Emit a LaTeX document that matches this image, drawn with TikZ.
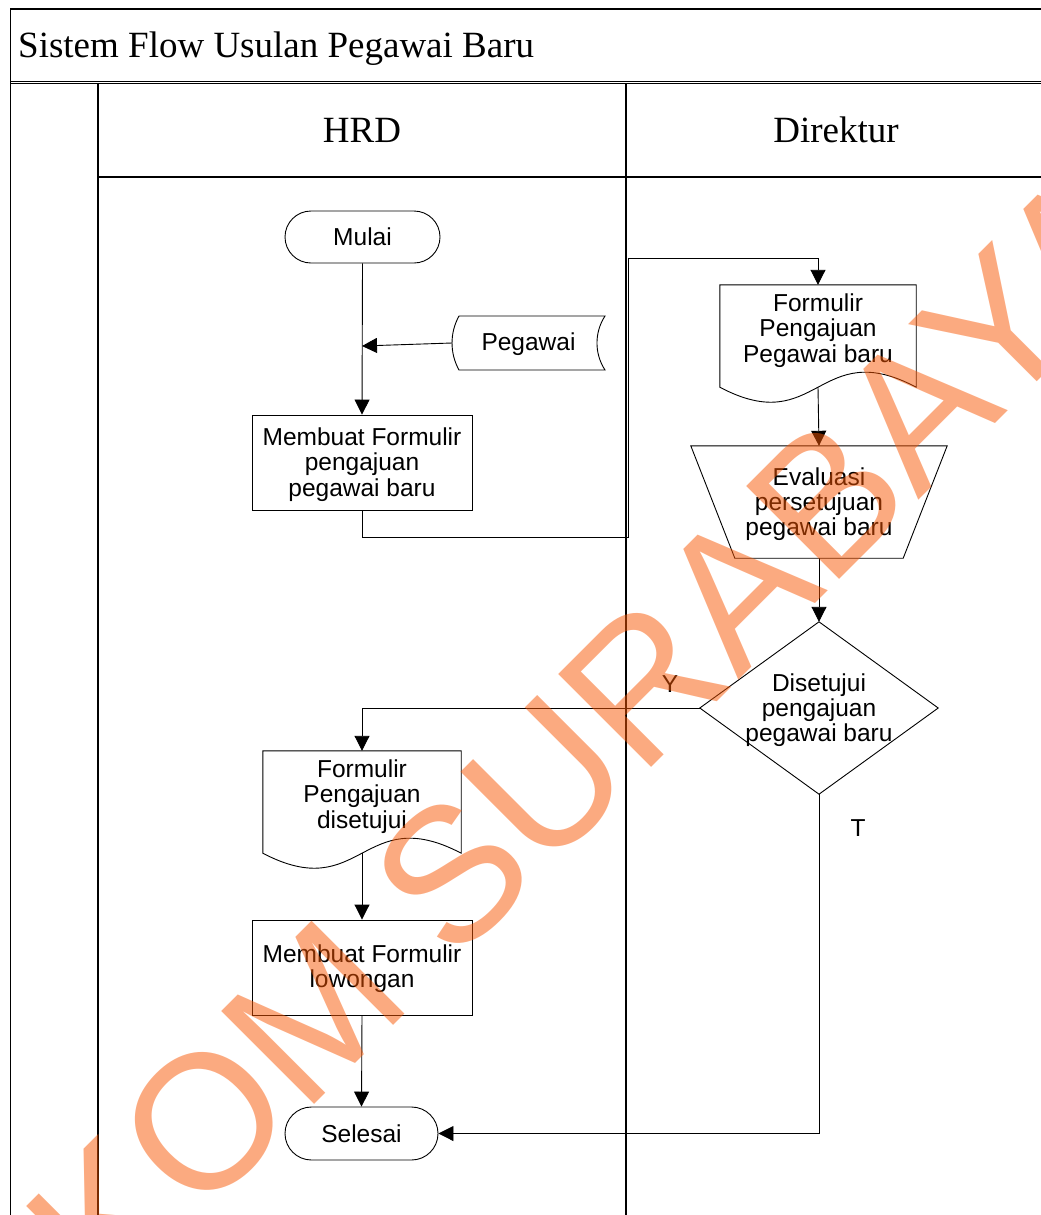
\documentclass[tikz,border=0pt]{standalone}
\usepackage{fontspec}
\setmainfont{Liberation Serif}
\newfontfamily\arialf{Liberation Sans}
\usetikzlibrary{shapes.misc,arrows.meta,calc}
\definecolor{wmcol}{RGB}{248,86,2}
\newcommand\flowfont{\arialf\fontsize{24.5bp}{25.3bp}\selectfont}
\newcommand\headfont{\fontsize{37bp}{40bp}\selectfont}
\begin{document}
\begin{tikzpicture}[x=1bp,y=-1bp,
  ln/.style={line width=0.9bp,draw=black},
  frame/.style={line width=1.2bp,draw=black},
  arr/.style={ln,-{Triangle[length=15bp,width=15bp]}},
  term/.style={rounded rectangle,draw,line width=0.9bp,fill=white,inner sep=0,
    minimum width=155bp,minimum height=52bp,font=\flowfont},
  proc/.style={rectangle,draw,line width=0.9bp,fill=white,inner sep=0,
    minimum width=220bp,minimum height=95bp},
  shapebox/.style={rectangle,draw=none,inner sep=0},
  txt/.style={font=\flowfont,align=center,inner sep=0},
  head/.style={font=\headfont,inner sep=0},
  wm/.style={rotate=45,anchor=base west,inner sep=0,text=wmcol,text opacity=0.5,
    font=\arialf\fontsize{191bp}{191bp}\selectfont}
]
\useasboundingbox (0,0) rectangle (1041,1215);
\clip (0,0) rectangle (1041,1215);

% pool frame
\draw[frame] (1050,9) -- (10.5,9) -- (10.5,1225);
\draw[line width=0.9bp] (10.5,81.5) -- (1050,81.5);
\draw[line width=0.9bp] (10.5,83.8) -- (1050,83.8);
\draw[frame] (98,83.8) -- (98,1225);
\draw[frame] (98,177) -- (1050,177);
\draw[frame] (626,83.8) -- (626,1225);

\node[head,anchor=base west] (title) at (18,57) {Sistem Flow Usulan Pegawai Baru};
\node[head,anchor=base] (hrd) at (362,142) {HRD};
\node[head,anchor=base] (dir) at (836,142) {Direktur};

% nodes
\node[term] (mulai) at (362.5,237) {Mulai};
\node[term,minimum width=153bp,minimum height=53bp] (sel) at (361.5,1133.5) {Selesai};
\node[proc] (p1) at (362,462.5) {};
\node[txt] (p1t) at (362,464.5) {Membuat Formulir\\pengajuan\\pegawai baru};
\node[proc] (p2) at (362,967.5) {};
\node[txt] (p2t) at (362,969) {Membuat Formulir\\lowongan};

% stored data
\node[shapebox,minimum width=153bp,minimum height=54bp] (peg) at (528.5,343) {};
\draw[ln,fill=white] ($(peg)+(-69.5,-27)$) .. controls ($(peg)+(-78.8,-10.2)$) and ($(peg)+(-78.8,10.2)$) .. ($(peg)+(-69.5,27)$)
  -- ($(peg)+(76.5,27)$) .. controls ($(peg)+(65.8,10.6)$) and ($(peg)+(65.8,-10.6)$) .. ($(peg)+(76.5,-27)$) -- cycle;
\node[txt] (pegt) at (528.5,344) {Pegawai};

% documents
\node[shapebox,minimum width=196bp,minimum height=102bp] (d1) at (818,336) {};
\draw[ln,fill=white] (d1.north west) -- (d1.north east) -- (d1.south east)
  .. controls ($(d1.south)+(0,-52)$) and ($(d1.south)+(0,52)$) .. (d1.south west) -- cycle;
\node[txt] (d1t) at (818,330.5) {Formulir\\Pengajuan\\Pegawai baru};

\node[shapebox,minimum width=198bp,minimum height=102bp] (d2) at (362,802) {};
\draw[ln,fill=white] (d2.north west) -- (d2.north east) -- (d2.south east)
  .. controls ($(d2.south)+(0,-52)$) and ($(d2.south)+(0,52)$) .. (d2.south west) -- cycle;
\node[txt] (d2t) at (362,796.5) {Formulir\\Pengajuan\\disetujui};

% manual operation
\node[shapebox,minimum width=256bp,minimum height=112bp] (ev) at (819,502) {};
\draw[ln,fill=white] (ev.north west) -- (ev.north east) -- ($(ev.south east)+(-44,0)$) -- ($(ev.south west)+(44,0)$) -- cycle;
\node[txt] (evt) at (819,504) {Evaluasi\\persetujuan\\pegawai baru};

% decision
\node[shapebox,minimum width=238bp,minimum height=172bp] (dia) at (819,708) {};
\draw[ln,fill=white] (dia.north) -- (dia.east) -- (dia.south) -- (dia.west) -- cycle;
\node[txt] (diat) at (819,710) {Disetujui\\pengajuan\\pegawai baru};

% connectors
\coordinate (join) at (362,346);
\coordinate (c1) at (628,537);
\coordinate (c2) at (628,258);
\draw[arr] (mulai.south) -- (p1.north);
\draw[arr] (peg.west) -- (join);
\draw[arr] (p1.south) |- (c1) -- (c2) -| (d1.north);
\draw[arr] (d1.south) -- (ev.north);
\draw[arr] (ev.south) -- (dia.north);
\draw[arr] (dia.west) -| (d2.north);
\draw[arr] (dia.south) |- (sel.east);
\draw[arr] (d2.south) -- (p2.north);
\draw[arr] (p2.south) -- (sel.north);
\node[txt] (ylab) at (670,684) {Y};
\node[txt] (tlab) at (858,828) {T};

% watermark
\node[wm] (wmark) at (-102,1521) {STIKOM SURABAYA};
\end{tikzpicture}
\end{document}
